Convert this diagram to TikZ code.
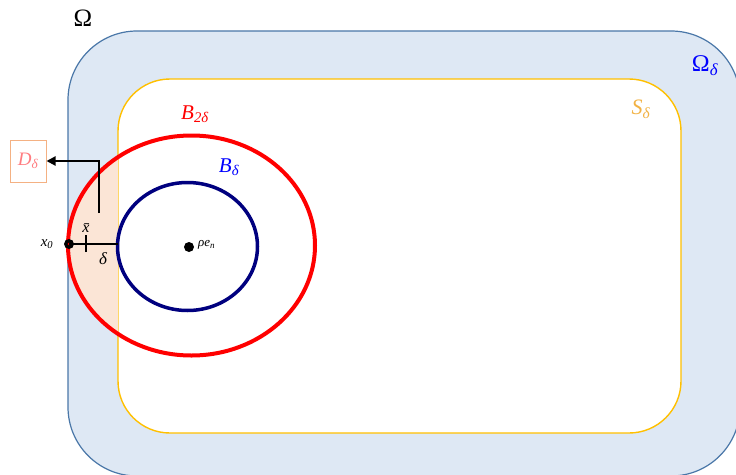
\documentclass[tikz,border=0pt]{standalone}
\usepackage{fontspec}
\setmainfont{Liberation Serif}
\usetikzlibrary{arrows.meta}
\definecolor{omfill}{HTML}{DEE8F4}
\definecolor{omline}{HTML}{4A77A8}
\definecolor{sline}{HTML}{FFC000}
\definecolor{slab}{HTML}{F2B244}
\definecolor{peach}{HTML}{FBE5D6}
\definecolor{navy}{HTML}{00007F}
\definecolor{dline}{HTML}{F4B183}
\definecolor{dtext}{HTML}{FF7C80}
\newcommand{\fsz}[1]{\fontsize{#1}{#1}\selectfont}
\newcommand{\lsub}[1]{\textsubscript{\itshape #1}}
\begin{document}
\begin{tikzpicture}[x=1pt,y=-1pt,
  lab/.style={inner sep=0pt},
  dotmark/.style={circle,fill=black,inner sep=0pt,minimum size=10pt}]
\useasboundingbox (0,0) rectangle (736,474);
\clip (0,0) rectangle (736,474);
% Omega
\draw[omline,fill=omfill,line width=1.2pt,rounded corners=69pt] (68,31) rectangle (740,476);
% S_delta
\draw[sline,fill=white,line width=1.4pt,rounded corners=52pt] (118,79) rectangle (681,433);
% D_delta region
\begin{scope}
  \clip (60,0) rectangle (118,474);
  \fill[peach] (191.5,245.5) ellipse [x radius=123.5, y radius=110];
\end{scope}
% circles
\draw[red,line width=4pt] (191.5,245.5) ellipse [x radius=123.5, y radius=110];
\draw[navy,line width=3.5pt] (187.5,246.5) ellipse [x radius=70, y radius=64];
% points
\node[dotmark] (x0) at (69,244) {};
\fill[red] (x0) circle (1.3pt);
\node[dotmark] (c) at (189,247) {};
\coordinate (sb) at (118,244);
\draw[line width=1.8pt] (x0.center) -- (sb);
\coordinate (xb) at (86,244);
\draw[line width=1.8pt] ([yshift=-8pt]xb) -- ([yshift=9pt]xb);
% labels
\node[lab,font=\fsz{25}] (om) at (83,18) {Ω};
\node[lab,blue,font=\fsz{24}] (omd) at (705,66) {Ω\lsub{δ}};
\node[lab,slab,font=\fsz{22}\itshape] (sd) at (641,109) {S\lsub{δ}};
\node[lab,red,font=\fsz{21}\itshape] (b2) at (195,114) {B\lsub{2δ}};
\node[lab,blue,font=\fsz{21}\itshape] (b1) at (229,167) {B\lsub{δ}};
\node[lab,font=\fsz{15}\itshape] (x0l) at (47,244) {x\lsub{0}};
\node[lab,font=\fsz{16}\itshape] (xbl) at (86,228) {x̄};
\node[lab,font=\fsz{17}\itshape] (dl) at (103,259) {δ};
\node[lab,font=\fsz{13}\itshape,anchor=west] (rl) at (198,245) {ρe\lsub{n}};
% D_delta box and arrow
\node[draw=dline,line width=1pt,minimum width=36pt,minimum height=42pt,inner sep=0pt,text=dtext,font=\fsz{19}\itshape] (dbox) at (28,161) {D\lsub{δ}};
\coordinate (astart) at (99,213);
\draw[line width=2pt,-{Triangle[length=9pt,width=9pt]}] (astart) |- (dbox.east);
\end{tikzpicture}
\end{document}
